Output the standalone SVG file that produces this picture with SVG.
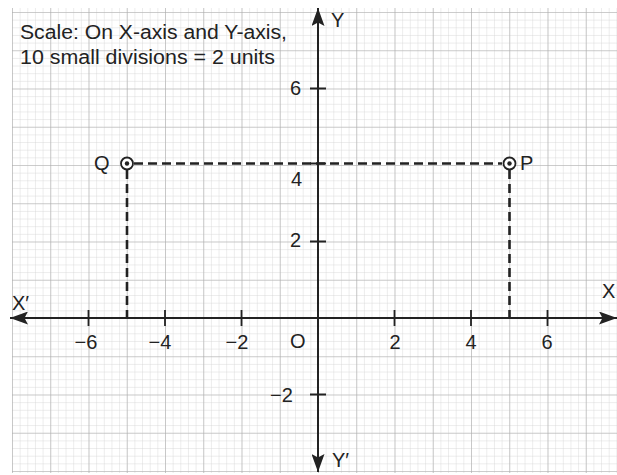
<svg xmlns="http://www.w3.org/2000/svg" width="617" height="475" viewBox="0 0 617 475">
<defs>
<pattern id="minor" patternUnits="userSpaceOnUse" x="12" y="12" width="7.65" height="7.65">
<path d="M0 0H7.65M0 0V7.65" fill="none" stroke="#d2d2d2" stroke-width="0.8"/>
</pattern>
<pattern id="major" patternUnits="userSpaceOnUse" x="12" y="12" width="38.25" height="38.25">
<path d="M0 0H38.25M0 0V38.25" fill="none" stroke="#ababab" stroke-width="1.1"/>
</pattern>
<marker id="arr" viewBox="0 0 18 13" refX="18" refY="6.5" markerWidth="9" markerHeight="6.5" orient="auto" markerUnits="strokeWidth">
<path d="M0 0L18 6.5L0 13L3.5 6.5Z" fill="#222"/>
</marker>
</defs>
<style>
text{font-family:"Liberation Sans",Arial,sans-serif;fill:#222;font-size:19px}
.ax{stroke:#222;stroke-width:2;fill:none}
.tk{stroke:#222;stroke-width:1.8}
.dash{stroke:#222;stroke-width:2.6;stroke-dasharray:9 5;fill:none}
.pt{fill:#fff;stroke:#222;stroke-width:1.8}
.c{text-anchor:middle}
.note{font-size:19.5px}
.big{font-size:20px}
</style>
<rect width="617" height="475" fill="#fff"/>
<g id="grid">
<rect x="12" y="8" width="605" height="465" fill="url(#minor)"/>
<rect x="12" y="8" width="605" height="465" fill="url(#major)"/>
</g>
<g id="scale-note">
<text class="note" x="20" y="39" textLength="267" lengthAdjust="spacingAndGlyphs">Scale: On X-axis and Y-axis,</text>
<text class="note" x="20" y="64" textLength="255" lengthAdjust="spacingAndGlyphs">10 small divisions = 2 units</text>
</g>
<g id="connectors">
<path class="dash" d="M134 163.5H502"/>
<path class="dash" d="M127 170V318"/>
<path class="dash" d="M509.5 170V318"/>
</g>
<g id="axes">
<path class="ax" d="M318 318H617" marker-end="url(#arr)"/>
<path class="ax" d="M318 318H10" marker-end="url(#arr)"/>
<path class="ax" d="M318 318V8" marker-end="url(#arr)"/>
<path class="ax" d="M318 318V472" marker-end="url(#arr)"/>
<path class="tk" d="M88.5 310V326M165 310V326M241.5 310V326M394.5 310V326M471 310V326M547.5 310V326M310 88.5H326M310 163.5H326M310 241.5H326M310 394.5H326"/>
</g>
<g id="axis-labels">
<text class="big" x="331" y="27">Y</text>
<text class="big" x="332" y="467">Y′</text>
<text class="big" x="12" y="310">X′</text>
<text class="big" x="602" y="298">X</text>
<text class="big" x="290" y="348">O</text>
<text class="c big" x="86" y="349">−6</text>
<text class="c big" x="160" y="349">−4</text>
<text class="c big" x="237" y="349">−2</text>
<text class="c big" x="395" y="349">2</text>
<text class="c big" x="471" y="349">4</text>
<text class="c big" x="547" y="349">6</text>
<text class="big" x="290" y="95">6</text>
<text class="big" x="291" y="186">4</text>
<text class="big" x="290" y="247">2</text>
<text class="big" x="270" y="402">−2</text>
</g>
<g id="Q">
<circle class="pt" cx="127" cy="163.5" r="6"/>
<circle cx="127" cy="163.5" r="2.2" fill="#222"/>
<text class="big" x="94" y="170">Q</text>
</g>
<g id="P">
<circle class="pt" cx="509.5" cy="163.5" r="6"/>
<circle cx="509.5" cy="163.5" r="2.2" fill="#222"/>
<text class="big" x="520" y="170">P</text>
</g>
</svg>
